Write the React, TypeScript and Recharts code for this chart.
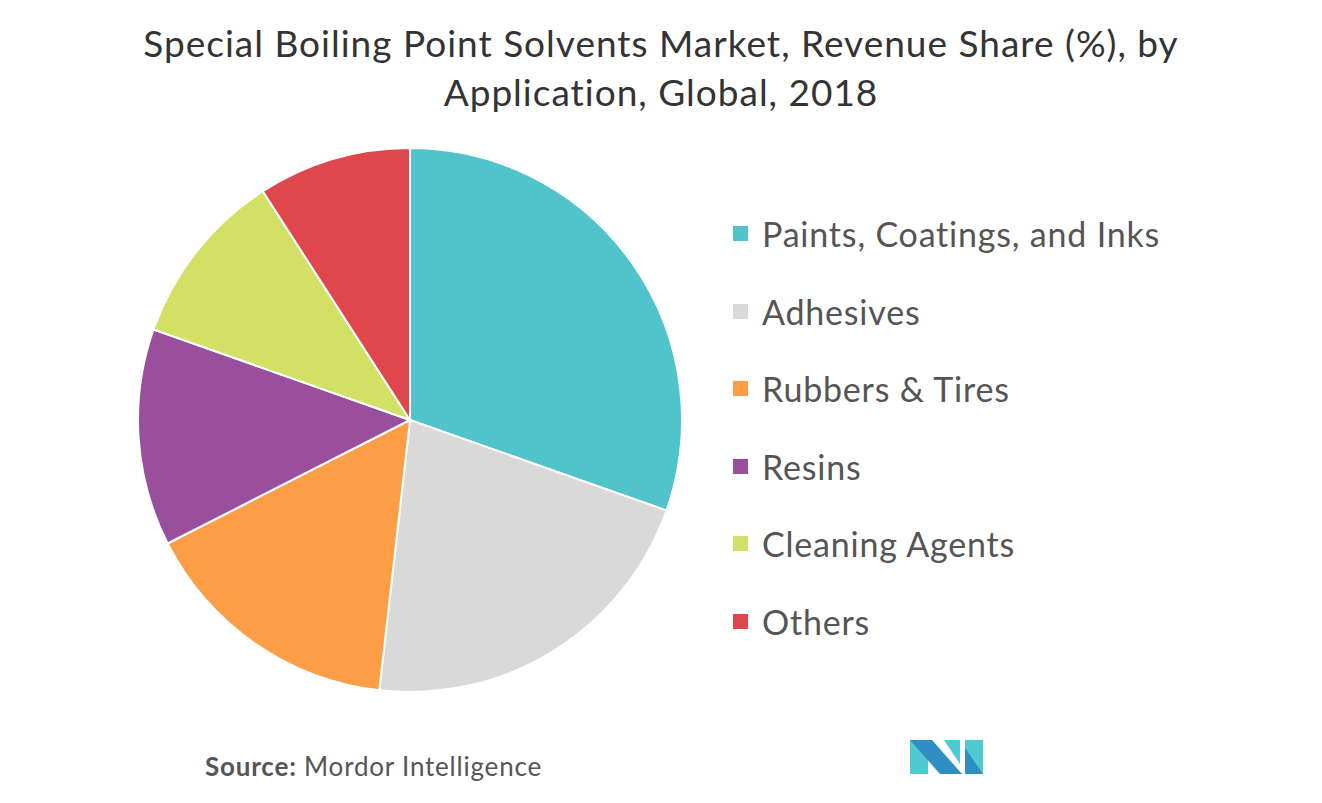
import { PieChart, Pie, Cell, Legend } from "recharts";

const categories = [
  "Paints, Coatings, and Inks",
  "Adhesives",
  "Rubbers & Tires",
  "Resins",
  "Cleaning Agents",
  "Others",
];
const shares = [30.4, 21.4, 15.7, 12.9, 10.5, 9.1];
const colors = ["#51c4cb", "#d9d9d9", "#fd9e46", "#9a4f9d", "#d2e066", "#e0474c"];

const data = categories.map((name, i) => ({ name, value: shares[i] }));

const FONT = "Lato, 'Open Sans', sans-serif";

function LegendList() {
  return (
    <div style={{ fontFamily: FONT }}>
      {data.map((d, i) => (
        <div
          key={d.name}
          style={{ display: "flex", alignItems: "center", height: 77.5 }}
        >
          <span
            style={{
              width: 15,
              height: 15,
              background: colors[i],
              marginRight: 14,
              display: "inline-block",
            }}
          />
          <span style={{ fontSize: 34, letterSpacing: 0.8, color: "#555" }}>{d.name}</span>
        </div>
      ))}
    </div>
  );
}

function Logo() {
  return (
    <svg width={80} height={44} style={{ position: "absolute", left: 908, top: 734 }}>
      <polygon points="2,6 20,6 20,40 2,40" fill="#4fcad0" />
      <polygon points="2,6 24,6 54,40 32,40" fill="#2f8ec4" />
      <polygon points="36,6 52,6 52,30" fill="#4fcad0" />
      <polygon points="57,6 75,6 75,40 57,40" fill="#4fcad0" />
      <polygon points="57,14 75,40 57,40" fill="#2f8ec4" />
    </svg>
  );
}

export default function App() {
  return (
    <div
      style={{
        position: "absolute",
        left: 0,
        top: 0,
        width: 1322,
        height: 803,
        background: "#fff",
        fontFamily: FONT,
      }}
    >
      <div
        style={{
          position: "absolute",
          top: 18,
          left: 0,
          width: 1322,
          textAlign: "center",
          fontSize: 37,
          letterSpacing: 1,
          lineHeight: "49px",
          color: "#333",
        }}
      >
        Special Boiling Point Solvents Market, Revenue Share (%), by
        <br />
        Application, Global, 2018
      </div>
      <PieChart
        width={1322}
        height={803}
        margin={{ top: 0, right: 0, bottom: 0, left: 0 }}
        style={{ position: "absolute", left: 0, top: 0 }}
      >
        <Pie
          data={data}
          dataKey="value"
          nameKey="name"
          cx={410}
          cy={420}
          outerRadius={272}
          startAngle={90}
          endAngle={-270}
          stroke="#fff"
          strokeWidth={2}
          isAnimationActive={false}
        >
          {data.map((d, i) => (
            <Cell key={d.name} fill={colors[i]} />
          ))}
        </Pie>
        <Legend
          layout="vertical"
          content={() => <LegendList />}
          wrapperStyle={{ left: 733, top: 195, width: 580 }}
        />
      </PieChart>
      <div
        style={{
          position: "absolute",
          left: 205,
          top: 750,
          fontSize: 26,
          letterSpacing: 0.8,
          color: "#555",
        }}
      >
        <b>Source:</b> Mordor Intelligence
      </div>
      <Logo />
    </div>
  );
}
